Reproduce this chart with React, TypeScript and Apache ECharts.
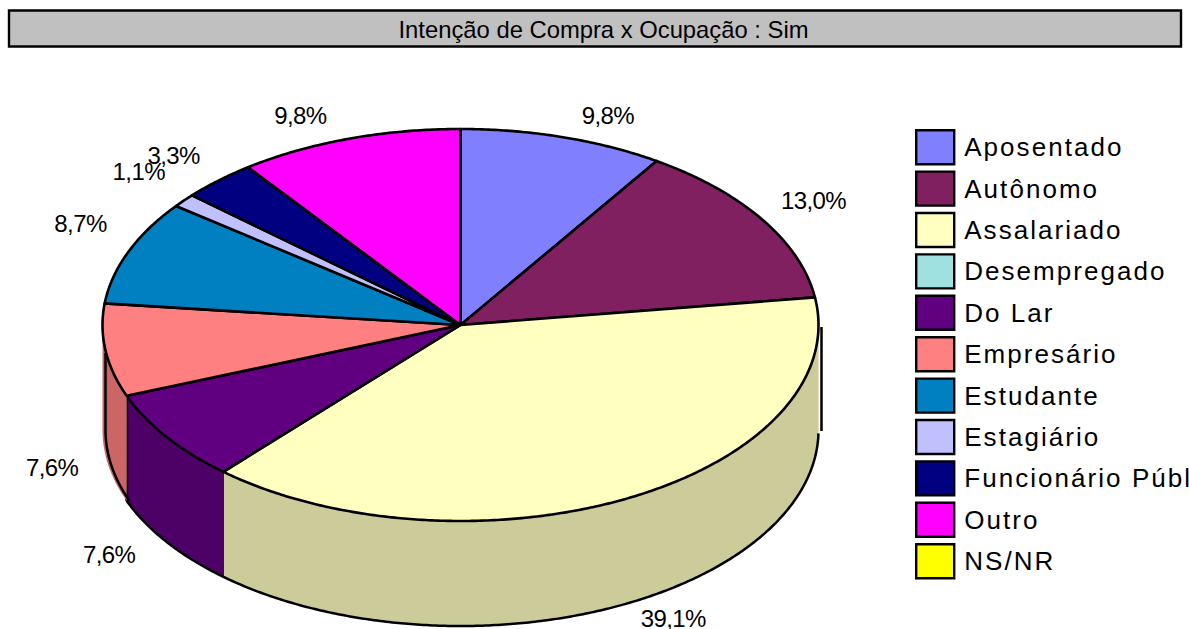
import React, { useEffect, useRef } from "react";
import * as echarts from "echarts";

const categories = ["Aposentado", "Autônomo", "Assalariado", "Desempregado", "Do Lar", "Empresário", "Estudante", "Estagiário", "Funcionário Público", "Outro", "NS/NR"];
const shares = [9.8, 13.0, 39.1, 0, 7.6, 7.6, 8.7, 1.1, 3.3, 9.8, 0];
const colors = ["#8080FF", "#802060", "#FFFFC0", "#A0E0E0", "#600080", "#FF8080", "#0080C0", "#C0C0FF", "#000080", "#FF00FF", "#FFFF00"];
const titleText = "Intenção de Compra x Ocupação : Sim";

// Small label nudges (layout only, not data).
const labelNudge = [[0, -1], [0, 2], [-4, 1], [0, 0], [-7, -2], [-1, -3], [4, -4], [5, -4], [4, 0], [-3, 2], [0, 0]];

const CX = 460.5, CY = 325, RX = 358, RY = 196, DEPTH = 105;
const total = shares.reduce((a, b) => a + b, 0);
const rad = (d: number) => (d * Math.PI) / 180;

// The original's 3D projection slightly shifts the angles on screen.
function warp(d: number) {
  const s2 = Math.sin(rad(2 * d)) ** 2;
  if (d < 90) return d - 2.3 * s2;
  if (d > 180) return d - 1.2 * Math.sin(rad(d)) ** 2 - 0.8 * s2;
  return d;
}
function rim(d: number, dy = 0, rx = RX) {
  return [CX + rx * Math.sin(rad(d)), CY + dy - RY * Math.cos(rad(d))];
}
function arc(a: number, b: number, dy = 0, rx = RX) {
  const n = Math.max(2, Math.ceil(Math.abs(b - a) * 2));
  const pts: number[][] = [];
  for (let i = 0; i <= n; i++) pts.push(rim(a + ((b - a) * i) / n, dy, rx));
  return pts;
}
function darken(hex: string) {
  const v = parseInt(hex.slice(1), 16);
  const c = [(v >> 16) & 255, (v >> 8) & 255, v & 255].map((x) => Math.round(x * 0.8));
  return `rgb(${c.join(",")})`;
}
const labelText = (v: number) => v.toFixed(1).replace(".", ",") + "%";

function renderSlice(params: any, api: any) {
  const i = params.seriesIndex;
  const v = api.value(0);
  if (!v) return { type: "group", children: [] };
  const before = shares.slice(0, i).reduce((a, b) => a + b, 0);
  const a = warp((before / total) * 360);
  const b = warp(((before + v) / total) * 360);
  const children: any[] = [];
  const sa = Math.max(a, 90), sb = Math.min(b, 270);
  if (sb > sa) {
    const top = arc(sa, sb);
    const bottom = arc(sb, sa, DEPTH);
    children.push({ type: "polygon", shape: { points: [...top, ...bottom] }, style: { fill: darken(colors[i]), stroke: "none" } });
    const inset = b >= 270 ? RX - 3 : RX;
    children.push({ type: "polyline", shape: { points: arc(sb, sa + (a <= 90 ? 1 : 0), DEPTH, inset) }, style: { fill: "none", stroke: "#000", lineWidth: 2.5 } });
    if (b < 270) {
      const p = rim(b);
      children.push({ type: "line", shape: { x1: p[0], y1: p[1], x2: p[0], y2: p[1] + DEPTH }, style: { stroke: "#000", lineWidth: v < 10 ? 3 : 1 } });
    }
    if (a <= 90) {
      children.push({ type: "line", shape: { x1: CX + RX + 3, y1: CY + 2, x2: CX + RX + 3, y2: CY + DEPTH + 1 }, style: { stroke: "#000", lineWidth: 2.5 } });
    }
    if (b >= 270) {
      children.push({ type: "line", shape: { x1: CX - RX + 3, y1: CY + 28, x2: CX - RX + 3, y2: CY + DEPTH }, style: { stroke: "#000", lineWidth: 2.5 } });
    }
  }
  children.push({
    type: "polygon",
    shape: { points: [[CX, CY], ...arc(a, b)] },
    style: { fill: colors[i], stroke: "#000", lineWidth: 2.6, lineJoin: "round" },
  });
  const mid = (a + b) / 2;
  const anchor = rim(mid);
  const sin = Math.sin(rad(mid));
  const front = Math.cos(rad(mid)) < 0;
  children.push({
    type: "text",
    x: anchor[0] + Math.sign(sin) * (42 + 10.5 * Math.abs(sin)) + labelNudge[i][0],
    y: anchor[1] + (front ? DEPTH + 15 : sin > 0 ? -21 : -25) + labelNudge[i][1],
    style: { text: labelText(v), fill: "#000", font: "24px Liberation Sans, Helvetica", align: "center", verticalAlign: "middle" },
  });
  return { type: "group", children };
}

export default function App() {
  const ref = useRef<HTMLDivElement>(null);
  useEffect(() => {
    const chart = echarts.init(ref.current!, undefined, { renderer: "svg" });
    chart.setOption({
      animation: false,
      backgroundColor: "#fff",
      graphic: [
        {
          type: "rect",
          z: 0,
          shape: { x: 9, y: 10.5, width: 1172, height: 36 },
          style: { fill: "#C0C0C0", stroke: "#000", lineWidth: 2.4 },
        },
      ],
      title: {
        text: titleText,
        left: 603.5,
        top: 17,
        padding: 0,
        textAlign: "center",
        z: 5,
        textStyle: { fontFamily: "Liberation Sans", fontSize: 23.8, fontWeight: "normal", color: "#000" },
      },
      legend: {
        orient: "vertical",
        left: 915,
        top: 129,
        padding: 0,
        itemWidth: 38,
        itemHeight: 34,
        itemGap: 5,
        selectedMode: false,
        textStyle: { fontFamily: "Liberation Sans, Arial", fontSize: 26, color: "#000", padding: [0, 0, 0, 5] },
        data: categories.map((name, i) => ({
          name,
          icon: "rect",
          itemStyle: { color: colors[i], borderColor: "#000", borderWidth: 2.4 },
        })),
      },
      series: categories.map((name, i) => ({
        type: "custom",
        name,
        coordinateSystem: "none",
        silent: true,
        clip: false,
        itemStyle: { color: colors[i] },
        data: [[shares[i]]],
        encode: { value: 0 },
        renderItem: renderSlice,
      })),
    });
    return () => chart.dispose();
  }, []);
  return (
    <>
      <style>{`html,body{margin:0;padding:0;overflow:hidden;background:#fff}
#chart text[style*="Arial"]{letter-spacing:2.05px}
#chart text[style*="Helvetica"]{letter-spacing:-0.6px}`}</style>
      <div id="chart" ref={ref} style={{ width: 1189, height: 629, overflow: "hidden" }} />
    </>
  );
}
